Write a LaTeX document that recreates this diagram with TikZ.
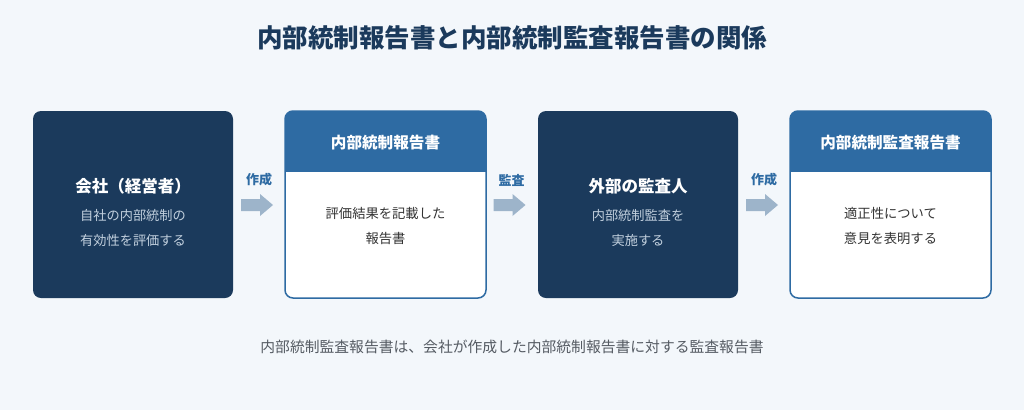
\documentclass[tikz,border=0pt]{standalone}
\usepackage{fontspec}
\setmainfont{Noto Sans CJK JP}
\definecolor{bg}{HTML}{F3F7FB}
\definecolor{navy}{HTML}{1B3A5C}
\definecolor{hblue}{HTML}{2E6BA3}
\definecolor{subtxt}{HTML}{C2D0DE}
\definecolor{bodytxt}{HTML}{333333}
\definecolor{arrowc}{HTML}{9DB4CA}
\definecolor{foot}{HTML}{555B63}
\tikzset{
  darkbox/.style={fill=navy, rounded corners=8pt},
  whitebox/.style={draw=hblue, line width=1.5pt, rounded corners=8pt},
  titletxt/.style={font=\bfseries\fontsize{25.5}{30}\selectfont, text=navy},
  bigtxt/.style={font=\bfseries\fontsize{16.5}{22}\selectfont, text=white},
  subtext/.style={font=\fontsize{13.2}{25}\selectfont, text=subtxt, align=center},
  headtxt/.style={font=\bfseries\fontsize{15.6}{18}\selectfont, text=white},
  bodytext/.style={font=\fontsize{13.3}{25}\selectfont, text=bodytxt, align=center},
  arrlabel/.style={font=\bfseries\fontsize{13}{15}\selectfont, text=hblue},
  blockarrow/.style={fill=arrowc, draw=none},
  foottxt/.style={font=\fontsize{14.8}{18}\selectfont, text=foot}
}
\begin{document}
\begin{tikzpicture}[x=1pt,y=-1pt]
\useasboundingbox (0,0) rectangle (1024,410);
\fill[bg] (0,0) rectangle (1024,410);
\node[titletxt] (title) at (512,38) {内部統制報告書と内部統制監査報告書の関係};

% box 1
\fill[darkbox] (33,111) rectangle (233,298);
\node[bigtxt] (t1) at (133,186) {会社（経営者）};
\node[subtext] (s1) at (133,228) {自社の内部統制の\\有効性を評価する};

% box 2
\begin{scope}
\clip[rounded corners=8pt] (285,111) rectangle (486,298);
\fill[white] (285,111) rectangle (486,298);
\fill[hblue] (285,111) rectangle (486,172);
\end{scope}
\draw[whitebox] (285,111) rectangle (486,298);
\node[headtxt] (h2) at (385.5,143) {内部統制報告書};
\node[bodytext] (s2) at (385.5,226) {評価結果を記載した\\報告書};

% box 3
\fill[darkbox] (538,111) rectangle (738,298);
\node[bigtxt] (t3) at (638,186) {外部の監査人};
\node[subtext] (s3) at (638,228) {内部統制監査を\\実施する};

% box 4
\begin{scope}
\clip[rounded corners=8pt] (790,111) rectangle (991,298);
\fill[white] (790,111) rectangle (991,298);
\fill[hblue] (790,111) rectangle (991,172);
\end{scope}
\draw[whitebox] (790,111) rectangle (991,298);
\node[headtxt] (h4) at (890.5,143) {内部統制監査報告書};
\node[bodytext] (s4) at (890.5,226) {適正性について\\意見を表明する};

% arrows
\foreach \cx/\lab in {259/作成, 511.5/監査, 764/作成}{
  \node[arrlabel] at (\cx,180) {\lab};
  \fill[blockarrow] (\cx-18,199) -- (\cx+1,199) -- (\cx+1,194) -- (\cx+14,205) -- (\cx+1,216) -- (\cx+1,211) -- (\cx-18,211) -- cycle;
}

\node[foottxt] (foot) at (512,347) {内部統制監査報告書は、会社が作成した内部統制報告書に対する監査報告書};
\end{tikzpicture}
\end{document}
